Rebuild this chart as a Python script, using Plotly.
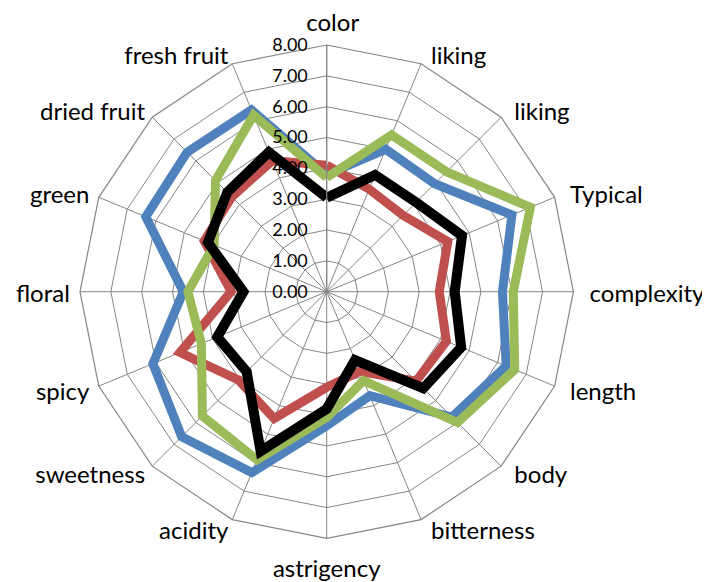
import plotly.graph_objects as go

categories = ["color", "liking", "liking", "Typical", "complexity", "length", "body",
              "bitterness", "astrigency", "acidity", "sweetness", "spicy", "floral",
              "green", "dried fruit", "fresh fruit"]

blue_vals = [3.8, 5.0, 4.95, 6.5, 5.7, 6.3, 5.75, 3.65, 4.35, 6.35, 6.65, 6.1, 4.65, 6.35, 6.4, 6.38]
red_vals = [4.1, 3.6, 3.5, 4.25, 3.65, 4.2, 4.1, 2.8, 3.1, 4.45, 4.05, 5.15, 3.1, 4.3, 4.35, 4.6]
green_vals = [3.7, 5.5, 5.5, 7.15, 6.05, 6.6, 6.0, 3.12, 4.08, 5.9, 5.7, 4.4, 4.5, 3.95, 5.1, 6.2]
black_vals = [3.05, 4.1, 4.1, 4.75, 4.15, 4.72, 4.43, 2.4, 3.8, 5.6, 3.67, 3.84, 2.7, 4.17, 4.56, 4.9]

radial_ticks = [0, 1, 2, 3, 4, 5, 6, 7, 8]
r_max = 8
r_label_max = 9  # range of the hidden label subplots

# unique category keys (zero-width spaces) so the duplicate "liking" stays two spokes
keys = []
seen = {}
for c in categories:
    n = seen.get(c, 0)
    keys.append(c + "\u200b" * n)
    seen[c] = n + 1

series = [
    (blue_vals, "#4F81BD", 9),
    (red_vals, "#C0504D", 9),
    (green_vals, "#9BBB59", 9),
    (black_vals, "#000000", 10),
]

fig = go.Figure()
for vals, col, w in series:
    fig.add_trace(go.Scatterpolar(
        r=vals + vals[:1],
        theta=keys + keys[:1],
        mode="lines",
        line=dict(color=col, width=w),
        showlegend=False,
        hoverinfo="skip",
        subplot="polar",
    ))

# category labels: right half (+ top) in polar2, left half (+ bottom) in polar3
n = len(keys)
groups = {"polar2": ([], [], [], []), "polar3": ([], [], [], [])}
for i in range(n):
    ang = 360.0 * i / n
    if ang == 0:
        g, pos, off = "polar2", "top center", 0.40
    elif ang == 180:
        g, pos, off = "polar3", "bottom center", 0.53
    elif ang < 180:
        g, pos, off = "polar2", "middle right", 0.33
    else:
        g, pos, off = "polar3", "middle left", 0.33
    rr, th, tx, ps = groups[g]
    rr.append(r_max + off); th.append(keys[i]); tx.append(categories[i]); ps.append(pos)

for g, (rr, th, tx, ps) in groups.items():
    fig.add_trace(go.Scatterpolar(
        r=rr, theta=th, mode="text", text=tx, textposition=ps,
        textfont=dict(size=24, family="Lato, Open Sans, sans-serif", color="black"),
        cliponaxis=False, showlegend=False, hoverinfo="skip", subplot=g,
    ))

# the html page body has an 8px margin; compensate
cx, cy, R = 326.7 - 8, 291.7 - 8, 246.7
R2 = R * r_label_max / r_max
W, H = 710, 582


def dom(rad, dx=0.0, dy=0.0):
    return dict(x=[(cx + dx - rad) / W, (cx + dx + rad) / W],
                y=[(H - cy - dy - rad) / H, (H - cy - dy + rad) / H])


def hidden_polar(domain):
    return dict(
        domain=domain,
        bgcolor="rgba(0,0,0,0)",
        gridshape="linear",
        angularaxis=dict(type="category", categoryarray=keys, rotation=90,
                         direction="clockwise", showline=False, showgrid=False,
                         ticks="", showticklabels=False),
        radialaxis=dict(range=[0, r_label_max], visible=False, showgrid=False,
                        showline=False, showticklabels=False),
    )


grid_col = "#868686"
fig.update_layout(
    width=W, height=H,
    margin=dict(l=0, r=0, t=0, b=0),
    paper_bgcolor="white",
    plot_bgcolor="white",
    font=dict(family="Lato, Open Sans, sans-serif", color="black"),
    polar=dict(
        domain=dom(R),
        bgcolor="white",
        gridshape="linear",
        angularaxis=dict(
            type="category",
            categoryarray=keys,
            rotation=90,
            direction="clockwise",
            showline=True,
            linecolor=grid_col,
            linewidth=1.2,
            gridcolor=grid_col,
            gridwidth=1.2,
            ticks="",
            showticklabels=False,
        ),
        radialaxis=dict(
            range=[0, r_max],
            tickvals=radial_ticks,
            tickformat=".2f",
            angle=90,
            tickangle=90,
            side="counterclockwise",
            showline=True,
            linecolor=grid_col,
            linewidth=1.2,
            gridcolor=grid_col,
            gridwidth=1.2,
            ticks="outside",
            ticklen=12,
            tickcolor="rgba(0,0,0,0)",
            tickfont=dict(size=18, family="Lato, Open Sans, sans-serif", color="black"),
        ),
    ),
    polar2=hidden_polar(dom(R2, dx=6, dy=4)),
    polar3=hidden_polar(dom(R2, dx=0, dy=4)),
)

fig.write_html("out.html")
